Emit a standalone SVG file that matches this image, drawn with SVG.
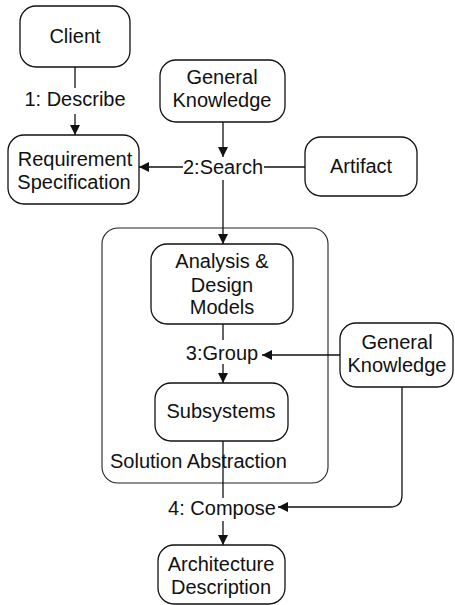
<svg xmlns="http://www.w3.org/2000/svg" width="455" height="605" viewBox="0 0 455 605">
<style>
.box{fill:#fff;stroke:#111;stroke-width:1.3}
.cont{fill:none;stroke:#222;stroke-width:1.1}
.t{font-family:"Liberation Sans",Arial,sans-serif;font-size:20px;fill:#111;text-anchor:middle}
.c{fill:none;stroke:#111;stroke-width:1.3}
</style>
<defs>
<marker id="ah" viewBox="0 0 10 10" refX="10" refY="5" markerWidth="10" markerHeight="10" markerUnits="userSpaceOnUse" orient="auto">
<path d="M0,0 L10,5 L0,10 Z" fill="#111"/>
</marker>
</defs>
<rect width="455" height="605" fill="#fff"/>
<g id="solution-abstraction">
<rect class="cont" x="102" y="228" width="226" height="255" rx="16"/>
<text class="t" x="110" y="468" style="text-anchor:start">Solution Abstraction</text>
</g>
<g id="client">
<rect class="box" x="20" y="6" width="110" height="61" rx="16"/>
<text class="t" x="75" y="43">Client</text>
</g>
<g id="requirement">
<rect class="box" x="8" y="135" width="131" height="69" rx="16"/>
<text class="t" x="75" y="166">Requirement</text>
<text class="t" x="74" y="189">Specification</text>
</g>
<g id="general-knowledge-1">
<rect class="box" x="160" y="60" width="125" height="62" rx="16"/>
<text class="t" x="222" y="84">General</text>
<text class="t" x="222" y="107">Knowledge</text>
</g>
<g id="artifact">
<rect class="box" x="305" y="137" width="112" height="59" rx="16"/>
<text class="t" x="361" y="173">Artifact</text>
</g>
<g id="analysis">
<rect class="box" x="151" y="244" width="142" height="80" rx="16"/>
<text class="t" x="222" y="268">Analysis &amp;</text>
<text class="t" x="222" y="292">Design</text>
<text class="t" x="222" y="314">Models</text>
</g>
<g id="subsystems">
<rect class="box" x="155" y="383" width="133" height="58" rx="16"/>
<text class="t" x="221" y="418">Subsystems</text>
</g>
<g id="general-knowledge-2">
<rect class="box" x="340" y="323" width="113" height="64" rx="16"/>
<text class="t" x="397" y="349">General</text>
<text class="t" x="397" y="372">Knowledge</text>
</g>
<g id="architecture">
<rect class="box" x="158" y="545" width="127" height="59" rx="16"/>
<text class="t" x="221" y="571">Architecture</text>
<text class="t" x="221" y="594">Description</text>
</g>
<g id="connectors">
<line class="c" x1="75" y1="67" x2="75" y2="88"/>
<text class="t" x="75" y="106">1: Describe</text>
<line class="c" x1="75" y1="114" x2="75" y2="135" marker-end="url(#ah)"/>
<line class="c" x1="223" y1="122" x2="223" y2="157" marker-end="url(#ah)"/>
<text class="t" x="223" y="174">2:Search</text>
<line class="c" x1="183" y1="167" x2="139" y2="167" marker-end="url(#ah)"/>
<line class="c" x1="264" y1="167" x2="305" y2="167"/>
<line class="c" x1="223" y1="180" x2="223" y2="244" marker-end="url(#ah)"/>
<line class="c" x1="223" y1="324" x2="223" y2="340"/>
<text class="t" x="222" y="360">3:Group</text>
<line class="c" x1="340" y1="355" x2="262" y2="355" marker-end="url(#ah)"/>
<line class="c" x1="223" y1="364" x2="223" y2="383" marker-end="url(#ah)"/>
<line class="c" x1="223" y1="441" x2="223" y2="498"/>
<text class="t" x="222" y="515">4: Compose</text>
<path class="c" d="M402,387 V495 Q402,507 390,507 H278" marker-end="url(#ah)"/>
<line class="c" x1="223" y1="521" x2="223" y2="545" marker-end="url(#ah)"/>
</g>
</svg>
